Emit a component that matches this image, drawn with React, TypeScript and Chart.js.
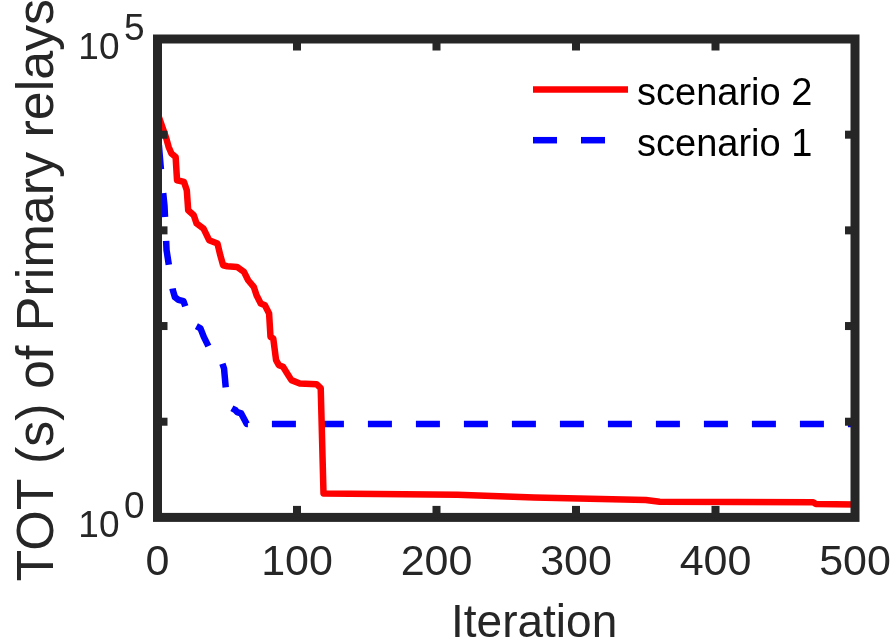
import React, { useEffect, useRef } from 'react';
import { Chart, registerables } from 'chart.js';

Chart.register(...registerables);

// ---- data ----
const seriesNames = ['scenario 2', 'scenario 1'];
const xTitle = 'Iteration';
const yTitle = 'TOT (s) of Primary relays';

const xTickValues = [0, 100, 200, 300, 400, 500];
const yDecades = [1, 10, 100, 1000, 10000, 100000];
const yLabelExponents = [0, 5];

const scenario2Iter = [1, 6, 8, 10, 13, 14, 19, 21, 22, 26, 28, 33, 37, 43, 45, 47, 50, 57, 62, 65, 69, 71, 74, 77, 80, 81, 83, 85, 87, 90, 93, 96, 102, 114, 117, 119, 215, 270, 350, 360, 470, 472, 500];
const scenario2Tot = [15300, 9460, 7440, 6350, 5850, 3340, 3210, 2620, 1620, 1440, 1180, 1045, 789, 729, 550, 432, 422, 415, 368, 301, 257, 210, 172, 165, 135, 77, 74, 44, 39, 37.5, 32, 27.2, 25.1, 24.7, 22.5, 1.78, 1.72, 1.61, 1.52, 1.46, 1.44, 1.38, 1.36];

const scenario1Iter = [1, 3, 5, 6.5, 9, 11, 12.5, 15, 18.6, 24.4, 30.8, 33.2, 40.3, 42, 43.9, 46.3, 47.7, 49.4, 50.4, 52.3, 55.9, 57.1, 60, 64, 500];
const scenario1Tot = [7750, 3500, 1820, 620, 360, 237, 200, 188, 182, 106, 94.5, 77, 47.7, 47, 42.3, 41.3, 36, 19, 14.3, 14.1, 13.2, 12.6, 12.2, 9.45, 9.45];

const FONT = '"Liberation Sans", Arial, Helvetica, sans-serif';
const AXIS_COLOR = '#262626';

const toPoints = (xs: number[], ys: number[]) => xs.map((x, i) => ({ x, y: ys[i] }));

const matlabPlugin = {
  id: 'matlabDecor',
  afterDraw(chart: any) {
    const { ctx, chartArea: a, scales } = chart;
    const xs = scales.x;
    const ys = scales.y;
    ctx.save();

    // frame
    ctx.strokeStyle = AXIS_COLOR;
    ctx.lineWidth = 9;
    ctx.setLineDash([]);
    ctx.strokeRect(a.left, a.top, a.right - a.left, a.bottom - a.top);

    // inward tick marks
    ctx.fillStyle = AXIS_COLOR;
    for (const v of xTickValues) {
      const px = xs.getPixelForValue(v);
      if (px <= a.left + 5 || px >= a.right - 5) continue;
      ctx.fillRect(px - 4, a.bottom - 11.5, 8, 11.5);
      ctx.fillRect(px - 4, a.top, 8, 11.5);
    }
    for (const v of yDecades) {
      const py = ys.getPixelForValue(v);
      if (py <= a.top + 5 || py >= a.bottom - 5) continue;
      ctx.fillRect(a.left, py - 4, 10, 8);
      ctx.fillRect(a.right - 10, py - 4, 10, 8);
    }

    // y tick labels with superscript exponents
    ctx.font = `37px ${FONT}`;
    ctx.textAlign = 'right';
    ctx.textBaseline = 'alphabetic';
    for (const e of yLabelExponents) {
      const py = ys.getPixelForValue(Math.pow(10, e));
      ctx.fillText('10', a.left - 38, py + 20);
      ctx.fillText(String(e), a.left - 13, py + 1);
    }

    // axis titles
    ctx.fillStyle = AXIS_COLOR;
    ctx.font = `46px ${FONT}`;
    ctx.textAlign = 'center';
    ctx.fillText(xTitle, a.left + (a.right - a.left) * 0.54, 637);

    ctx.save();
    ctx.font = `52px ${FONT}`;
    ctx.translate(53, (a.top + a.bottom) / 2 + 12);
    ctx.rotate(-Math.PI / 2);
    ctx.textAlign = 'center';
    ctx.textBaseline = 'alphabetic';
    ctx.fillText(yTitle, 0, 0);
    ctx.restore();

    // legend
    ctx.font = `38px ${FONT}`;
    ctx.textAlign = 'left';
    ctx.textBaseline = 'alphabetic';
    chart.data.datasets.forEach((ds: any, i: number) => {
      const y = a.top + 50.5 + i * 50.7;
      ctx.strokeStyle = ds.borderColor;
      ctx.lineWidth = ds.borderWidth;
      ctx.lineCap = 'butt';
      ctx.setLineDash(ds.borderDash || []);
      ctx.beginPath();
      ctx.moveTo(a.right - 322, y);
      ctx.lineTo(a.right - 227, y);
      ctx.stroke();
      ctx.setLineDash([]);
      ctx.fillStyle = '#000';
      ctx.fillText(ds.label, a.right - 218, y + 15.5);
    });

    ctx.restore();
  },
};

export default function App() {
  const canvasRef = useRef<HTMLCanvasElement | null>(null);

  useEffect(() => {
    const canvas = canvasRef.current;
    if (!canvas) return;
    const chart = new Chart(canvas, {
      type: 'line',
      data: {
        datasets: [
          {
            label: seriesNames[0],
            data: toPoints(scenario2Iter, scenario2Tot),
            borderColor: '#ff0000',
            backgroundColor: '#ff0000',
            borderWidth: 6.5,
            pointRadius: 0,
            tension: 0,
            borderJoinStyle: 'round',
            fill: false,
          },
          {
            label: seriesNames[1],
            data: toPoints(scenario1Iter, scenario1Tot),
            borderColor: '#0000ff',
            backgroundColor: '#0000ff',
            borderWidth: 6.5,
            borderDash: [24, 24],
            pointRadius: 0,
            tension: 0,
            borderJoinStyle: 'round',
            fill: false,
          },
        ],
      },
      options: {
        responsive: false,
        animation: false,
        events: [],
        layout: { padding: { left: 0, right: 41, top: 39, bottom: 0 } },
        plugins: {
          legend: { display: false },
          tooltip: { enabled: false },
          title: { display: false },
        },
        scales: {
          x: {
            type: 'linear',
            min: 0,
            max: 500,
            grid: { display: false, drawTicks: false },
            border: { display: false },
            ticks: {
              stepSize: 100,
              padding: 20,
              color: AXIS_COLOR,
              font: { family: FONT, size: 43 },
              maxRotation: 0,
              autoSkip: false,
            },
            afterFit: (scale: any) => {
              scale.height = 124.6;
              scale.paddingLeft = 0;
              scale.paddingRight = 0;
            },
          },
          y: {
            type: 'logarithmic',
            min: 1,
            max: 100000,
            grid: { display: false, drawTicks: false },
            border: { display: false },
            ticks: { display: false },
            afterFit: (scale: any) => {
              scale.width = 157.5;
              scale.paddingTop = 0;
              scale.paddingBottom = 0;
            },
          },
        },
      },
      plugins: [matlabPlugin],
    } as any);
    return () => chart.destroy();
  }, []);

  return (
    <div style={{ position: 'absolute', left: 0, top: 0, width: 896, height: 642, background: '#fff' }}>
      <canvas ref={canvasRef} width={896} height={642} style={{ display: 'block' }} />
    </div>
  );
}
